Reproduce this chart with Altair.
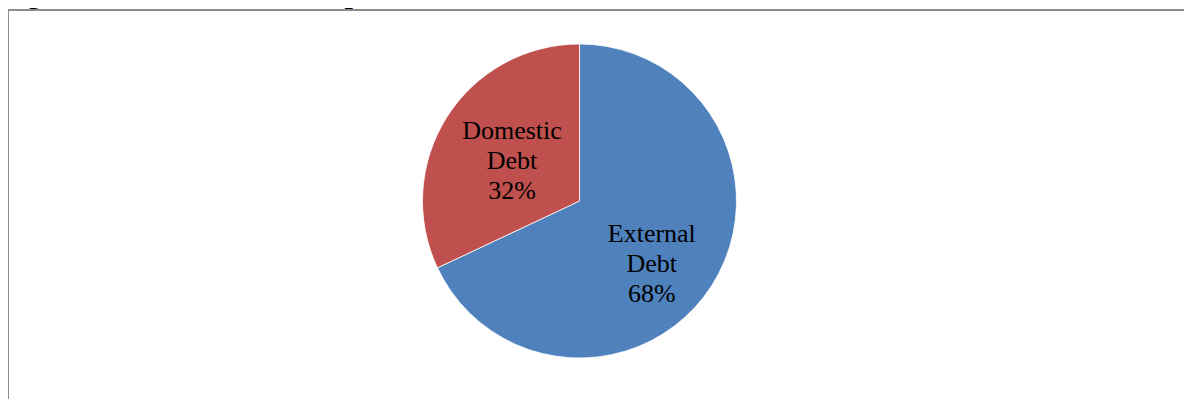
import altair as alt
import pandas as pd

# ---- data ----
categories = ["External Debt", "Domestic Debt"]
shares = [68, 32]
slice_order = [0, 1]
label_texts = ["External\nDebt\n68%", "Domestic\nDebt\n32%"]
slice_colors = ["#4F81BD", "#C0504D"]
title_text = "Figure 2: Public Debt Composition 2017/18"

df = pd.DataFrame({
    "category": categories,
    "share": shares,
    "order": slice_order,
    "label": label_texts,
})

theta_scale = alt.Scale(domain=[0, 100])
color_scale = alt.Scale(domain=categories, range=slice_colors)

pie = alt.Chart(df).mark_arc(outerRadius=157, stroke="white", strokeWidth=0.8).encode(
    theta=alt.Theta("share:Q", stack=True, scale=theta_scale),
    order=alt.Order("order:Q"),
    color=alt.Color("category:N", scale=color_scale, legend=None),
)

label_base = (
    alt.Chart(df)
    .transform_window(cum="sum(share)", sort=[alt.SortField("order")], frame=[None, 0])
    .transform_calculate(mid="datum.cum - datum.share / 2")
)

def label_layer(cat, radius, dx, dy):
    return (
        label_base.transform_filter(alt.datum.category == cat)
        .mark_text(
            radius=radius, dx=dx, dy=dy,
            font="Liberation Serif", fontSize=26, lineHeight=30,
            lineBreak="\n", align="center", baseline="middle", color="black",
        )
        .encode(
            theta=alt.Theta("mid:Q", stack=None, scale=theta_scale),
            text="label:N",
        )
    )

ext_label = label_layer("External Debt", 88, -2, -14)
dom_label = label_layer("Domestic Debt", 80, 0, -27)

one = pd.DataFrame({"k": [0]})
top_line = alt.Chart(one).mark_rule(color="#8c8c8c", strokeWidth=2).encode(
    x=alt.value(0), x2=alt.value(1184), y=alt.value(2)
)
left_line = alt.Chart(one).mark_rule(color="#8c8c8c", strokeWidth=2).encode(
    x=alt.value(0), y=alt.value(2), y2=alt.value(400)
)
title = alt.Chart(one).mark_text(
    font="Liberation Serif", fontSize=30, fontWeight="bold",
    align="left", baseline="alphabetic", color="black",
).encode(x=alt.value(-8), y=alt.value(-5), text=alt.value(title_text))

chart = alt.layer(top_line, left_line, pie, ext_label, dom_label, title).properties(
    width=1143,
    height=386,
    autosize=alt.AutoSizeParams(type="none"),
    padding={"left": 0, "top": 0, "right": 33, "bottom": 5},
    background="white",
).configure_view(stroke=None)

chart.save("out.html", embed_options={"renderer": "svg", "actions": False})
